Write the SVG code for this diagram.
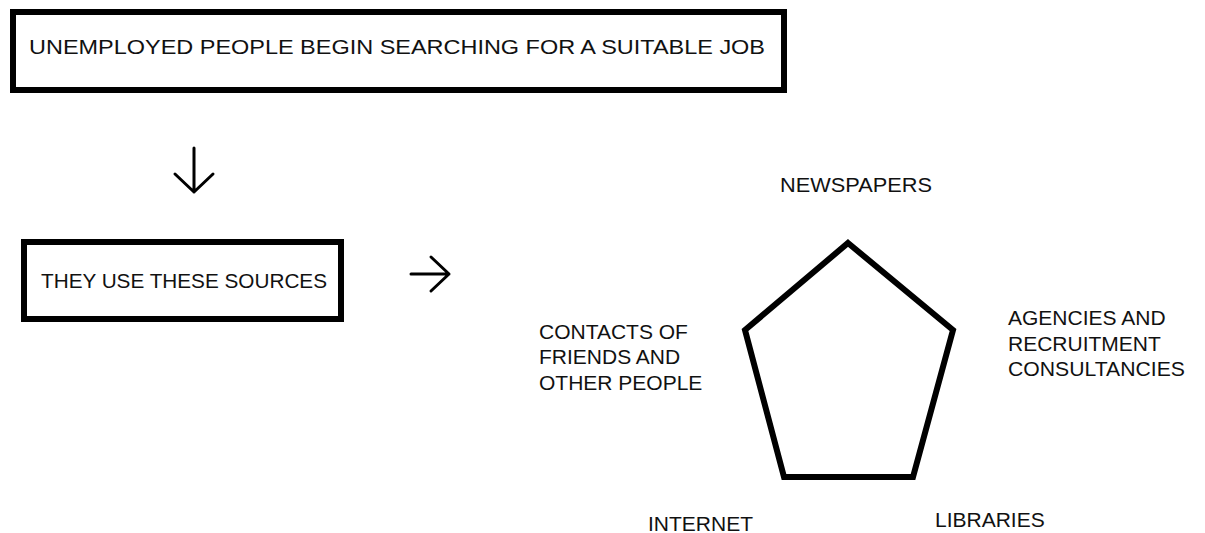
<svg xmlns="http://www.w3.org/2000/svg" width="1205" height="533" viewBox="0 0 1205 533">
<style>
.box{fill:#fff;stroke:#000;stroke-width:6}
.t{font-family:"Liberation Sans",Arial,sans-serif;font-size:21px;fill:#111}
.c{fill:none;stroke:#000;stroke-width:3;stroke-linecap:round;stroke-linejoin:round}
</style>
<rect width="1205" height="533" fill="#fff"/>
<g id="node-start">
<rect class="box" x="13" y="12" width="771" height="78"/>
<text class="t" x="29" y="54" font-size="23.5" textLength="736" lengthAdjust="spacingAndGlyphs">UNEMPLOYED PEOPLE BEGIN SEARCHING FOR A SUITABLE JOB</text>
</g>
<g id="node-sources">
<rect class="box" x="24" y="242" width="317" height="77"/>
<text class="t" x="41" y="288" textLength="286" lengthAdjust="spacingAndGlyphs">THEY USE THESE SOURCES</text>
</g>
<g id="connectors">
<path class="c" d="M194 148 V192 M175 174 L194 192 L213 174"/>
<path class="c" d="M411 274 H449 M431 257 L449 274 L431 291"/>
</g>
<g id="node-pentagon">
<polygon points="848,243 953,330 913,477 784,477 745,330" fill="none" stroke="#000" stroke-width="6" stroke-linejoin="miter"/>
</g>
<g id="label-newspapers">
<text class="t" x="780" y="192" textLength="152" lengthAdjust="spacingAndGlyphs">NEWSPAPERS</text>
</g>
<g id="label-contacts">
<text class="t" x="539" y="339">CONTACTS OF</text>
<text class="t" x="539" y="364">FRIENDS AND</text>
<text class="t" x="539" y="390">OTHER PEOPLE</text>
</g>
<g id="label-agencies">
<text class="t" x="1008" y="325">AGENCIES AND</text>
<text class="t" x="1008" y="351">RECRUITMENT</text>
<text class="t" x="1008" y="376" textLength="177" lengthAdjust="spacingAndGlyphs">CONSULTANCIES</text>
</g>
<g id="label-internet">
<text class="t" x="648" y="531">INTERNET</text>
</g>
<g id="label-libraries">
<text class="t" x="935" y="527">LIBRARIES</text>
</g>
</svg>
